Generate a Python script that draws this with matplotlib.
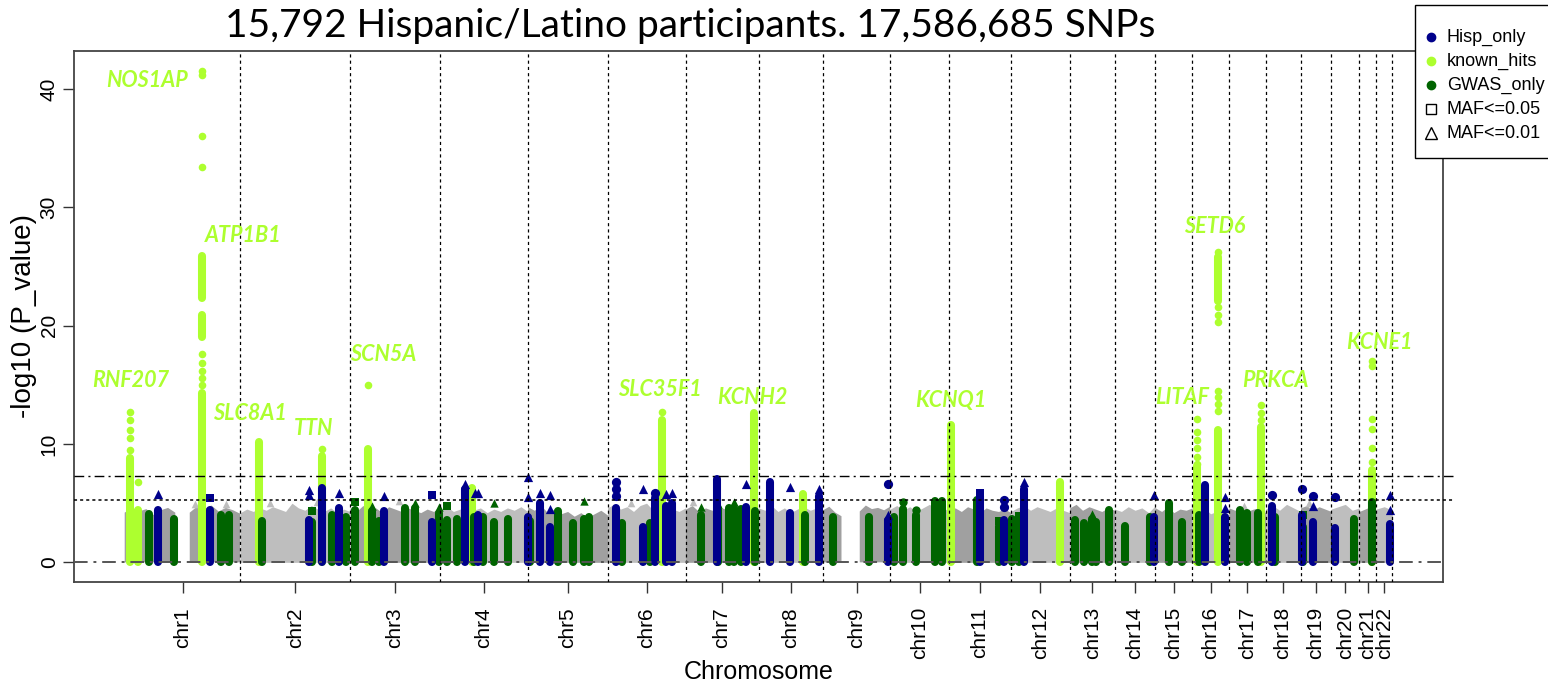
import numpy as np
import matplotlib.pyplot as plt
from matplotlib.lines import Line2D
from matplotlib.patches import Rectangle

# chromosome spans (Mb of covered SNP range), in plotting order
chrom_names = ['chr%d' % i for i in range(1, 23)]
chrom_len = [252, 239, 196, 191, 174, 170, 159, 141, 146, 128, 135, 128,
             98, 89, 80, 80, 80, 76, 67, 61, 37, 35]

# upper envelope of the non-significant (grey) SNP cloud, evenly spread per chromosome
gray_top = [
    [4.2, 4.6, 4.3, 4.5, 4.0, 4.4, 4.6, 4.2, np.nan, 4.2, 4.7, 4.5, 4.8, 4.3, 4.6, 4.4, 4.1],
    [4.2, 4.5, 4.3, 4.6, 4.4, 4.7, 4.5, 4.3, 5.0, 4.6, 4.4, 4.8, 4.5, 4.3, 4.6, 4.2, 4.5, 4.3],
    [4.6, 4.3, 4.8, 4.4, 4.6, 4.2, 4.7, 4.5, 4.3, 4.6, 4.4, 4.2, 4.5, 4.3, 4.6],
    [4.4, 4.7, 4.3, 4.5, 4.8, 4.4, 4.6, 4.2, 4.5, 4.3, 4.6, 4.4, 4.7, 4.3],
    [4.7, 4.4, 4.8, 4.2, 4.5, 4.1, 4.3, 3.9, 4.2, 3.8, 4.1, 4.4, 4.0],
    [4.6, 4.9, 4.5, 4.7, 4.3, 4.8, 5.0, 4.4, 4.6, 4.2, 4.5, 4.3, 4.6],
    [4.5, 4.8, 4.3, 4.6, 4.4, 4.7, 4.5, 4.2, 4.6, 4.4, 4.7, 4.3],
    [4.6, 4.4, 4.8, 4.3, 4.6, 4.2, 4.5, 4.7, 4.4, 4.6, 4.3],
    [4.4, 4.7, 4.2, 3.9, np.nan, np.nan, 4.3, 4.8, 4.5, 4.6, 4.4, 4.7],
    [4.5, 4.8, 4.4, 4.7, 4.3, 4.6, 4.9, 4.5, 4.3, 4.6],
    [4.4, 4.6, 4.3, 4.7, 4.5, 4.2, 4.6, 4.4, 4.3, 4.5, 4.2],
    [4.3, 4.6, 4.8, 4.4, 4.7, 4.5, 4.3, 4.6, 4.4, 4.2],
    [4.6, 4.9, 4.4, 4.7, 4.5, 4.3, 4.6, 4.4],
    [4.5, 4.3, 4.7, 4.4, 4.6, 4.2, 4.8],
    [4.6, 4.3, 4.7, 4.2, 4.5, 4.4, 4.6],
    [4.4, 4.2, 4.6, 4.1, 4.3, 4.5, 4.0],
    [4.6, 4.4, 4.7, 4.3, 4.5, 4.6, 4.2],
    [4.5, 4.8, 4.4, 4.9, 4.6, 4.3],
    [4.6, 4.8, 4.4, 4.7, 4.5, 4.3],
    [4.5, 4.7, 4.9, 4.4, 4.6],
    [4.3, 4.6, 4.4],
    [4.5, 4.7, 4.4],
]
gray_pt_pos = [154, 220, 317, 420, 598, 1103, 1238, 2438, 2580]
gray_pt_y = [4.9, 4.9, 5.0, 5.1, 5.2, 5.0, 5.1, 4.8, 5.0]

# known hits: cumulative position (Mb), dense runs and isolated points (-log10 p)
known_pos = [12.4, 29.8, 167.4, 292.8, 428.9, 530.4, 756.5, 1171, 1371, 1477.6,
             1800, 2039, 2336, 2383, 2477, 2717]
known_runs = [[(0, 8.8)], [(0, 4.4)], [(0, 14.3), (19.0, 20.9), (22.3, 25.9)],
              [(0, 10.2)], [(0, 9.0)], [(0, 9.6)], [(0, 6.3)], [(0, 12.0)],
              [(0, 12.6)], [(0, 5.8)], [(0, 11.6)], [(0, 6.8)], [(0, 8.1)],
              [(0, 11.2), (22.1, 25.8)], [(0, 11.4)], [(0, 7.8)]]
known_dots = [[9.5, 10.5, 11.2, 12.0, 12.7], [6.8],
              [15.0, 15.6, 16.2, 16.8, 17.6, 33.4, 36.0, 41.2, 41.5],
              [], [9.6], [15.0], [], [12.7], [], [], [], [],
              [8.3, 8.9, 9.7, 10.3, 11.0, 12.1],
              [12.8, 13.4, 14.0, 14.5, 20.3, 20.9, 21.6, 26.2],
              [12.0, 12.6, 13.3], [8.5, 9.7, 11.3, 12.1, 16.6, 17.0]]

gene_names = ['NOS1AP', 'ATP1B1', 'RNF207', 'SLC8A1', 'TTN', 'SCN5A', 'SLC35F1',
              'KCNH2', 'KCNQ1', 'LITAF', 'SETD6', 'PRKCA', 'KCNE1']
gene_x = [47.8, 258.7, 13.0, 273.9, 410.9, 563, 1167, 1367, 1800, 2304, 2376, 2507, 2735]
gene_y = [40.7, 27.6, 15.4, 12.6, 11.3, 17.6, 14.6, 13.9, 13.7, 13.9, 28.4, 15.4, 18.6]

# Hispanic-only signals
hisp_pos = [73.3, 185.4, 401.5, 430.4, 468, 565.2, 669.6, 740.7, 768.9, 879.8,
            905, 926.7, 1070, 1129.8, 1156.5, 1178.9, 1193.5, 1290.7, 1354.3, 1405,
            1450.7, 1512.4, 1662.4, 1863.7, 1915.9, 1959.3, 2242, 2354.3, 2397.8, 2500.7,
            2564.6, 2589.8, 2637, 2758]
hisp_top = [4.4, 4.4, 3.6, 6.3, 4.6, 4.3, 3.4, 6.2, 4.0, 3.8,
            5.0, 3.0, 4.6, 3.0, 5.4, 4.8, 5.0, 7.0, 4.7, 6.8,
            4.2, 5.6, 3.6, 5.6, 3.6, 6.2, 3.8, 6.5, 3.8, 4.8,
            4.0, 3.4, 2.9, 3.2]
hisp_pt_pos = [73.3, 185.4, 401.5, 401.5, 468, 565.2, 669.6, 740.7, 763, 770,
               879.8, 879.8, 905, 926.7, 926.7, 1070, 1070, 1070, 1129.8, 1156.5,
               1178.9, 1193.5, 1354.3, 1450.7, 1512.4, 1662.4, 1662.4, 1863.7, 1915.9, 1915.9,
               1959.3, 2242, 2397.8, 2397.8, 2500.7, 2564.6, 2589.8, 2589.8, 2637, 2758, 2758]
hisp_pt_y = [5.8, 5.4, 5.7, 6.1, 5.9, 5.6, 5.7, 6.6, 5.9, 5.9,
             5.5, 7.2, 5.9, 4.5, 5.7, 5.6, 6.2, 6.8, 6.2, 5.9,
             5.8, 5.9, 6.6, 6.4, 6.2, 4.0, 6.6, 5.9, 4.7, 5.3,
             6.8, 5.7, 4.6, 5.5, 5.7, 6.2, 4.8, 5.6, 5.5, 4.4, 5.7]
hisp_pt_maf = ['^', 's', '^', '^', '^', '^', 's', '^', '^', '^',
               '^', '^', '^', '^', '^', 'o', 'o', 'o', '^', 'o',
               '^', '^', '^', '^', '^', '^', 'o', 's', 'o', 'o',
               '^', '^', '^', '^', 'o', 'o', '^', 'o', 'o', '^', '^']

# GWAS-only signals
gwas_pos = [53.7, 106.5, 209.3, 227.6, 298.5, 408.7, 452.2, 482.6, 502.2, 539.1,
            553.7, 610.9, 632, 684.1, 702.2, 723.9, 760.9, 780.4, 803.7, 834.8,
            882.6, 945, 977.6, 1000.7, 1011.5, 1082.6, 1143.5, 1256.5, 1293.5, 1317.4,
            1328.3, 1343.5, 1372.4, 1482.6, 1542.8, 1622.4, 1676.7, 1695, 1723.9, 1765.9,
            1781.9, 1858, 1905, 1934.1, 1948.5, 2071.7, 2089.8, 2108, 2117.4, 2144.1,
            2178.9, 2234.8, 2274.6, 2303.7, 2339.8, 2430.4, 2445, 2470.2, 2506.5, 2567.4,
            2678.3, 2717.4]
gwas_top = [4.1, 3.7, 4.0, 4.0, 3.5, 3.4, 4.0, 3.8, 4.4, 4.3,
            3.5, 4.6, 4.6, 4.2, 3.6, 3.7, 3.8, 3.8, 3.4, 3.7,
            3.5, 4.3, 3.3, 3.7, 3.8, 3.3, 3.3, 4.0, 4.5, 4.6,
            4.6, 4.5, 4.3, 4.0, 3.8, 3.8, 3.8, 4.5, 4.0, 5.2,
            5.2, 5.3, 3.1, 3.7, 3.5, 3.6, 3.3, 3.7, 3.4, 4.4,
            3.1, 3.8, 5.0, 3.4, 4.0, 4.4, 4.2, 4.2, 3.8, 3.0,
            3.7, 5.1]
gwas_pt_pos = [408.7, 502.2, 539.1, 632, 684.1, 702.2, 803.7, 1000.7, 1256.5, 1293.5,
               1328.3, 1695, 1723.9, 1905, 1948.5, 2108, 2567.4]
gwas_pt_y = [4.3, 5.1, 4.8, 5.0, 4.7, 4.8, 5.0, 5.2, 4.7, 4.9,
             5.1, 5.1, 4.4, 3.5, 3.9, 4.1, 4.0]
gwas_pt_maf = ['s', 's', '^', '^', '^', 's', '^', '^', '^', '^',
               '^', 'o', 'o', 's', 's', '^', 's']

gw_line = 7.3
sugg_line = 5.3

HISP = '#00008B'
KNOWN = '#ADFF2F'
GWAS = '#006400'
GRAY_ODD = '#A0A0A0'
GRAY_EVEN = '#BEBEBE'
W, H = 1548, 686

starts = np.concatenate([[0], np.cumsum(chrom_len)[:-1]])
ends = np.cumsum(chrom_len)
total = ends[-1]

fig = plt.figure(figsize=(W / 100, H / 100), dpi=100)
ax = fig.add_axes([74 / W, 1 - 582 / H, (1443 - 74) / W, (582 - 51) / H])

# grey background cloud
for i, tops in enumerate(gray_top):
    xs = np.linspace(starts[i], ends[i], len(tops))
    ys = np.array(tops, dtype=float)
    col = GRAY_ODD if i % 2 == 0 else GRAY_EVEN
    ax.fill_between(xs, 0, ys, color=col, lw=0, zorder=1)
ax.scatter(gray_pt_pos, gray_pt_y, marker='^', s=30, color=GRAY_EVEN, lw=0, zorder=1)

col_lw = 5.8
# known hits
for x, runs, dots in zip(known_pos, known_runs, known_dots):
    for lo, hi in runs:
        ax.plot([x, x], [lo, hi], color=KNOWN, lw=col_lw, solid_capstyle='round', zorder=2)
    if dots:
        ax.scatter([x] * len(dots), dots, s=30, color=KNOWN, lw=0, zorder=2)

# GWAS-only
for x, h in zip(gwas_pos, gwas_top):
    ax.plot([x, x], [0, h], color=GWAS, lw=col_lw, solid_capstyle='round', zorder=3)
for m in ['o', 's', '^']:
    idx = [k for k, mm in enumerate(gwas_pt_maf) if mm == m]
    ax.scatter([gwas_pt_pos[k] for k in idx], [gwas_pt_y[k] for k in idx],
               marker=m, s=36 if m != 's' else 30, color=GWAS, lw=0, zorder=3)

# Hispanic-only
for x, h in zip(hisp_pos, hisp_top):
    ax.plot([x, x], [0, h], color=HISP, lw=col_lw, solid_capstyle='round', zorder=4)
for m in ['o', 's', '^']:
    idx = [k for k, mm in enumerate(hisp_pt_maf) if mm == m]
    ax.scatter([hisp_pt_pos[k] for k in idx], [hisp_pt_y[k] for k in idx],
               marker=m, s=44 if m != 's' else 36, color=HISP, lw=0, zorder=4)

# chromosome boundaries and significance lines
for e in ends:
    ax.axvline(e, color='black', lw=0.9, ls=(0, (2.5, 2.5)), zorder=5)
ax.axhline(0, color='#555555', lw=1.4, ls=(0, (7, 3, 1.5, 3)), zorder=5)
ax.axhline(gw_line, xmax=1.007, color='black', lw=1.0, ls=(0, (7, 3, 1.5, 3)),
           zorder=5, clip_on=False)
ax.axhline(sugg_line, xmax=1.007, color='black', lw=1.1, ls=(0, (2, 2)),
           zorder=5, clip_on=False)

for name, gx, gy in zip(gene_names, gene_x, gene_y):
    ax.text(gx, gy, name, color=KNOWN, fontsize=15.5, fontweight='bold', style='italic',
            family=['Lato', 'DejaVu Sans'], ha='center', va='center', zorder=6)

pad = 0.04 * total
ax.set_xlim(-pad, total + pad)
ax.set_ylim(-1.66, 43.2)

ax.set_xticks((starts + ends) / 2)
ax.set_xticklabels(chrom_names, rotation=90, fontsize=15, family='Liberation Sans')
ax.set_yticks([0, 10, 20, 30, 40])
ax.set_yticklabels(['0', '10', '20', '30', '40'], rotation=90, va='center',
                   fontsize=15, family='Liberation Sans')
ax.tick_params(length=8, width=1, color='#333333')
ax.tick_params(axis='x', pad=10)
ax.tick_params(axis='y', pad=3)
for s in ax.spines.values():
    s.set_color('#444444')
    s.set_linewidth(1.3)

fig.text(759 / W, 1 - 672 / H, 'Chromosome', fontsize=18, family='Liberation Sans',
         ha='center', va='center')
fig.text(24 / W, 1 - 316 / H, '-log10 (P_value)', fontsize=20, family='Liberation Sans',
         rotation=90, ha='center', va='center')

fig.text(690 / W, 1 - 26 / H, '15,792 Hispanic/Latino participants. 17,586,685 SNPs',
         fontsize=28, family=['Lato', 'DejaVu Sans'], ha='center', va='center')

# legend box, drawn in figure pixels so it can run off the right edge
fig.patches.append(Rectangle((1415 / W, 1 - 158 / H), 150 / W, 153 / H,
                             transform=fig.transFigure, facecolor='white',
                             edgecolor='black', lw=1.0, zorder=10))
leg_labels = ['Hisp_only', 'known_hits', 'GWAS_only', 'MAF<=0.05', 'MAF<=0.01']
leg_marker = ['o', 'o', 'o', 's', '^']
leg_face = [HISP, KNOWN, GWAS, 'none', 'none']
leg_edge = [HISP, KNOWN, GWAS, 'black', 'black']
leg_size = [6, 6, 6, 7, 8]
for k, lab in enumerate(leg_labels):
    yk = 1 - (37 + 24 * k) / H
    fig.lines.append(Line2D([1431 / W], [yk], transform=fig.transFigure, ls='none',
                            marker=leg_marker[k], mfc=leg_face[k], mec=leg_edge[k],
                            ms=leg_size[k], mew=1.0, zorder=11))
    fig.text(1447 / W, yk, lab, fontsize=13, family='Liberation Sans',
             ha='left', va='center', zorder=11)

fig.savefig('out.png', dpi=100)
